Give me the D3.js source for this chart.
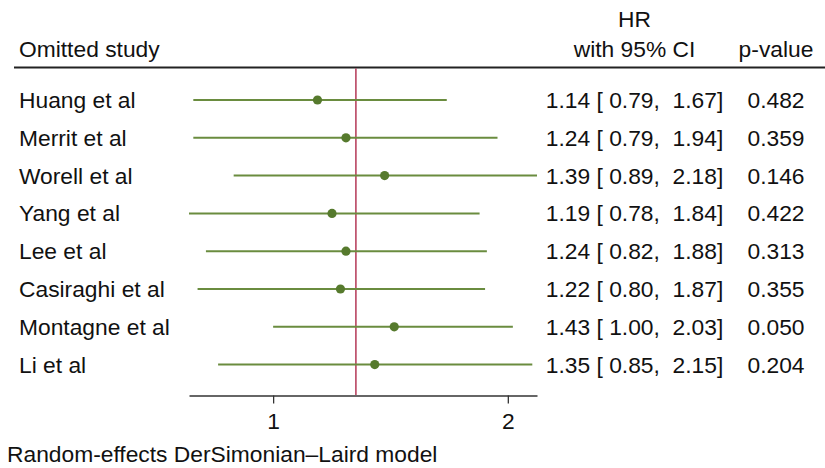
<!DOCTYPE html>
<html><head><meta charset="utf-8">
<script src="https://cdn.jsdelivr.net/npm/d3@7"></script>
<style>
html,body{margin:0;padding:0;background:#fff;}
svg text{font-family:"Liberation Sans",Arial,sans-serif;font-size:22.8px;fill:#111;white-space:pre;}
</style></head>
<body>
<svg id="chart" width="825" height="468"></svg>
<script>
const studies = ["Huang et al","Merrit et al","Worell et al","Yang et al","Lee et al","Casiraghi et al","Montagne et al","Li et al"];
const hr      = [1.14, 1.24, 1.39, 1.19, 1.24, 1.22, 1.43, 1.35];
const lower   = [0.79, 0.79, 0.89, 0.78, 0.82, 0.80, 1.00, 0.85];
const upper   = [1.67, 1.94, 2.18, 1.84, 1.88, 1.87, 2.03, 2.15];
const pvalues = ["0.482","0.359","0.146","0.422","0.313","0.355","0.050","0.204"];
const overall = 1.277;
const xTicks  = [1, 2];
const footnote = "Random-effects DerSimonian\u2013Laird model";

const svg = d3.select("#chart");
const x = d3.scaleLog().domain([d3.min(lower), d3.max(upper)]).range([189, 537]);
const y = d3.scalePoint().domain(studies).range([100, 364.6]);

const fmt = d3.format(".2f");
const ciText = (i) => `${fmt(hr[i])} [${fmt(lower[i]).padStart(5," ")}, ${fmt(upper[i]).padStart(5," ")}]`;

// headers
svg.append("text").attr("x",19).attr("y",57).text("Omitted study");
svg.append("text").attr("x",634.5).attr("y",27).attr("text-anchor","middle").text("HR");
svg.append("text").attr("x",634.5).attr("y",57).attr("text-anchor","middle").text("with 95% CI");
svg.append("text").attr("x",776).attr("y",57).attr("text-anchor","middle").text("p-value");
svg.append("line").attr("x1",14).attr("x2",825).attr("y1",67.5).attr("y2",67.5)
  .attr("stroke","#222").attr("stroke-width",2.2);

// overall line
svg.append("line").attr("x1",x(overall)).attr("x2",x(overall)).attr("y1",68.5).attr("y2",395)
  .attr("stroke","#a8193d").attr("stroke-width",1.3);

// rows
const g = svg.append("g");
studies.forEach((s,i)=>{
  const yy = y(s);
  g.append("line").attr("x1",x(lower[i])).attr("x2",x(upper[i])).attr("y1",yy).attr("y2",yy)
    .attr("stroke","#6a8c3f").attr("stroke-width",2);
  g.append("circle").attr("cx",x(hr[i])).attr("cy",yy).attr("r",4.6).attr("fill","#567a2d");
  g.append("text").attr("x",19).attr("y",yy+8).text(s);
  g.append("text").attr("x",634.5).attr("y",yy+8).attr("text-anchor","middle").text(ciText(i));
  g.append("text").attr("x",776).attr("y",yy+8).attr("text-anchor","middle").text(pvalues[i]);
});

// axis
const axis = d3.axisBottom(x).tickValues(xTicks).tickFormat(d3.format("d")).tickSize(8).tickSizeOuter(0).tickPadding(9);
const ag = svg.append("g").attr("transform","translate(0,395.5)").call(axis);
ag.select(".domain").attr("stroke","#333").attr("stroke-width",1.3);
ag.selectAll(".tick line").attr("stroke","#333").attr("stroke-width",1.3);
ag.selectAll(".tick text").attr("font-family","Liberation Sans, Arial, sans-serif").attr("font-size","22.8px").attr("fill","#111");

svg.append("text").attr("x",7).attr("y",462).text(footnote);
</script>
</body></html>
